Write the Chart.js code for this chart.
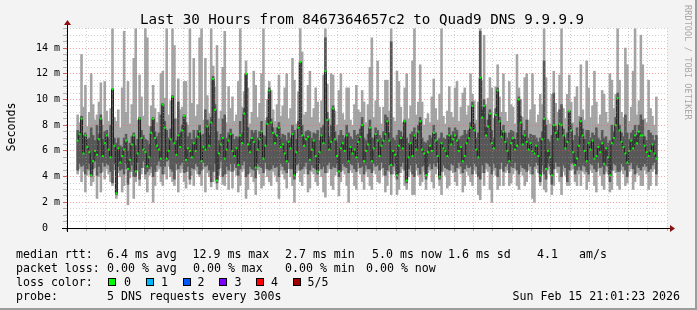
<!DOCTYPE html>
<html>
<head>
<meta charset="utf-8">
<script src="https://cdn.jsdelivr.net/npm/chart.js@4.4.1/dist/chart.umd.min.js"></script>
<style>
  html, body { margin: 0; padding: 0; background: #f3f3f3; }
  #wrap { position: relative; width: 697px; height: 310px; overflow: hidden;
          font-family: "DejaVu Sans Mono", monospace; color: #000; }
  #chart { position: absolute; left: 0; top: 0; }
  #frame { position: absolute; left: 0; top: 0; width: 695px; height: 308px;
           border-right: 2px solid #9c9c9c; border-bottom: 2px solid #9c9c9c; pointer-events: none; }
  .t { position: absolute; white-space: pre; font-size: 11.6px; line-height: 14px; }
  #title { position: absolute; left: 140px; top: 11px; white-space: pre; font-size: 14.2px; line-height: 16px; }
  #ylab { position: absolute; left: -14px; top: 120px; width: 50px; text-align: center; font-size: 11.6px;
          line-height: 14px; transform: rotate(-90deg); white-space: pre; }
  #mark { position: absolute; left: 683px; top: 5px; writing-mode: vertical-rl; font-size: 8.5px;
          color: #a8a8a8; white-space: pre; letter-spacing: 0.1px; }
  .box { position: absolute; top: 278px; width: 6px; height: 6px; border: 1px solid #000; }
</style>
</head>
<body>
<div id="wrap">
  <canvas id="chart" width="697" height="310"></canvas>
  <div id="title">Last 30 Hours from 8467364657c2 to Quad9 DNS 9.9.9.9</div>
  <div id="ylab">Seconds</div>
  <div id="mark">RRDTOOL / TOBI OETIKER</div>

  <div class="t" style="left:16px;top:246.5px">median rtt:</div>
  <div class="t" style="left:107px;top:246.5px">6.4 ms avg</div>
  <div class="t" style="left:192.5px;top:246.5px">12.9 ms max</div>
  <div class="t" style="left:285px;top:246.5px">2.7 ms min</div>
  <div class="t" style="left:372px;top:246.5px">5.0 ms now</div>
  <div class="t" style="left:448px;top:246.5px">1.6 ms sd</div>
  <div class="t" style="left:537px;top:246.5px">4.1</div>
  <div class="t" style="left:579px;top:246.5px">am/s</div>

  <div class="t" style="left:16px;top:260.5px">packet loss:</div>
  <div class="t" style="left:107px;top:260.5px">0.00 % avg</div>
  <div class="t" style="left:193px;top:260.5px">0.00 % max</div>
  <div class="t" style="left:285px;top:260.5px">0.00 % min</div>
  <div class="t" style="left:366px;top:260.5px">0.00 % now</div>

  <div class="t" style="left:16px;top:274.5px">loss color:</div>
  <div id="losskey"></div>

  <div class="t" style="left:16px;top:288.5px">probe:</div>
  <div class="t" style="left:107px;top:288.5px">5 DNS requests every 300s</div>
  <div class="t" style="left:512.5px;top:288.5px">Sun Feb 15 21:01:23 2026</div>
  <div id="frame"></div>
</div>
<script>
// time window in hours counted from Sat 00:00, one column = 6 minutes
var startHour = 15.1;
var endHour = 45.1;
var stepHours = 0.1;

// outer smoke: fastest / slowest of the 5 requests per column (ms)
var minRtt = [
  4.2,4.6,3.6,4.4,2.8,4.1,4.5,3.3,3.6,4.7,2.3,4.0,2.8,4.4,3.8,4.6,4.2,3.6,3.3,4.5,
  2.3,4.3,4.0,2.8,3.3,4.6,1.8,3.9,4.4,2.3,3.6,4.5,3.3,4.2,4.7,3.8,2.8,4.1,4.3,2.0,
  3.3,4.4,4.6,3.6,3.3,4.2,3.8,4.8,4.0,3.6,3.3,4.5,2.8,4.3,4.6,3.6,3.1,4.4,3.4,4.1,
  3.3,4.5,4.2,4.0,3.3,4.6,2.8,4.3,4.0,3.2,3.6,4.4,3.0,4.1,4.7,3.4,3.3,4.2,3.0,4.4,
  3.1,4.5,4.1,2.8,3.3,4.4,4.6,2.3,3.0,4.3,4.0,3.6,2.6,4.5,4.2,3.1,3.3,4.6,4.0,3.6,
  3.3,4.4,4.1,3.6,2.3,4.5,4.2,3.8,3.1,4.6,4.0,3.3,2.0,4.3,4.5,3.6,3.3,4.2,4.6,2.8,
  3.1,4.4,4.2,3.6,3.3,4.5,4.0,2.8,2.4,4.3,4.6,3.3,3.0,4.1,4.4,2.5,3.6,4.5,4.2,3.3,
  2.0,4.5,4.3,3.3,3.0,4.6,4.2,3.6,3.0,4.4,4.0,3.3,3.0,4.5,4.2,3.6,3.5,4.6,4.1,2.8,
  3.3,4.4,2.6,4.2,4.5,2.6,3.0,4.3,4.6,3.3,3.0,4.0,4.4,2.6,2.6,4.5,4.1,3.3,3.6,4.4,
  3.0,4.3,4.5,3.6,3.1,4.2,4.6,3.3,2.6,4.4,4.1,3.1,3.3,4.5,4.3,3.6,3.3,4.6,4.2,2.8,
  3.3,4.4,4.1,3.6,3.3,4.5,4.2,2.6,2.2,4.3,3.3,4.6,4.4,3.0,2.0,4.5,4.1,3.0,3.3,4.6,
  3.3,4.3,4.5,3.3,3.5,4.2,4.6,3.3,3.0,4.4,4.1,3.3,3.6,4.5,4.2,2.3,2.0,4.6,4.3,3.3,
  4.4,3.0,2.8,4.5,4.2,2.6,3.3,4.6,4.3,3.6,2.6,4.4,4.1,3.3,3.3,4.5,4.6,3.6,3.3,4.2,
  3.3,4.4,4.2,3.0,3.6,4.5,4.3,3.3,2.8,4.6,4.1,3.3,3.0,4.4,4.2,2.8,3.0,4.5,4.3,3.3,
  3.0,4.5,4.2,3.3,3.5,4.4,4.6,3.0,3.6,4.3,4.1,3.3,3.3,4.5,4.2,3.0,3.3,4.4,4.6,3.3
];
var maxRtt = [
  8.8,8.2,13.5,9.4,11.1,7.9,9.0,12.0,9.6,8.4,8.8,9.8,11.3,8.0,11.4,9.1,8.3,9.3,15.5,8.6,
  8.3,9.2,7.8,10.9,15.3,9.0,11.4,8.1,9.6,13.2,15.5,8.4,11.9,10.2,8.7,15.5,14.8,7.9,9.5,11.1,
  9.3,8.2,9.0,12.0,12.2,10.1,15.5,8.8,9.9,15.5,14.2,8.5,11.6,9.2,9.4,11.4,11.4,8.0,15.5,9.7,
  13.2,8.7,9.6,14.8,15.5,8.4,13.2,10.3,8.9,15.5,12.6,11.0,14.2,8.5,9.1,12.5,15.3,8.2,11.0,9.3,
  10.2,8.3,8.8,11.4,15.5,9.4,10.6,13.0,10.9,8.1,9.0,12.2,11.1,8.6,9.7,12.0,15.5,8.4,10.0,11.4,
  10.7,9.2,8.3,9.6,11.9,8.7,9.5,10.9,12.0,8.5,9.3,13.2,11.5,8.1,10.6,15.5,13.7,8.8,9.0,11.1,
  12.2,8.6,9.3,10.9,9.8,8.2,9.9,11.9,15.5,11.2,8.5,12.0,11.9,9.1,8.0,10.7,12.0,8.9,8.4,10.9,
  10.9,8.4,8.0,9.6,11.1,9.2,9.0,10.7,9.8,8.2,9.6,12.5,14.8,8.6,9.9,13.0,9.4,8.1,9.4,11.5,
  11.5,9.1,15.5,8.6,8.3,12.2,11.4,9.4,8.2,10.9,12.0,8.5,9.5,13.0,15.5,8.8,9.8,12.7,9.8,8.0,
  8.5,8.9,8.2,10.2,11.6,9.3,8.4,10.4,15.5,8.7,8.1,9.1,11.0,9.0,8.6,10.9,11.4,8.3,9.4,10.5,
  10.9,8.8,9.5,12.0,10.4,9.9,8.4,9.8,15.5,11.5,15.0,9.6,10.1,11.7,10.9,8.5,11.0,12.7,10.2,9.0,
  12.0,9.0,8.3,11.4,9.6,9.4,8.1,13.5,10.9,10.0,8.6,11.7,12.0,8.4,9.2,12.0,9.6,8.2,8.8,10.4,
  9.6,15.5,11.7,8.4,8.1,10.4,12.2,9.7,9.0,11.9,15.5,9.3,8.5,10.4,11.9,9.8,8.2,10.2,11.0,8.7,
  12.7,9.2,8.4,13.0,10.9,8.6,9.5,12.2,9.8,8.1,8.8,10.7,10.4,9.0,8.2,12.0,11.5,9.3,10.4,15.5,
  11.5,9.0,8.6,14.0,12.7,8.3,9.4,12.2,15.5,8.8,9.9,15.0,12.7,8.5,8.2,11.5,9.3,8.7,8.0,10.2
];
// inner smoke: 2nd and 4th of the 5 requests (ms)
var lowRtt = [
  4.5,5.0,4.8,4.9,4.2,4.6,5.0,4.0,4.6,5.2,4.1,4.8,4.3,5.1,4.8,5.0,4.9,4.4,3.5,5.0,
  2.6,4.8,4.5,4.6,4.2,5.0,3.4,4.4,4.9,4.0,4.0,5.1,3.8,4.7,5.2,4.2,4.4,4.6,4.8,4.0,
  4.4,4.9,5.2,4.8,4.2,4.8,5.2,5.3,4.6,4.4,3.8,5.0,4.6,4.9,5.1,4.3,4.4,4.8,3.8,4.7,
  4.6,5.0,4.8,4.2,4.5,5.1,4.8,4.9,4.5,3.6,4.4,5.0,3.5,4.6,5.2,4.0,4.2,4.8,4.5,5.0,
  4.4,5.0,4.7,4.1,4.6,4.9,5.2,4.0,4.2,4.8,4.6,4.5,3.9,5.0,4.8,4.7,4.3,5.1,4.6,4.5,
  4.6,4.9,4.7,4.8,4.0,5.0,4.8,4.5,4.3,5.1,4.6,4.6,3.8,4.9,5.0,4.5,4.6,4.8,5.1,4.2,
  4.5,4.9,4.7,4.6,4.2,5.0,4.6,4.8,4.3,4.9,5.1,4.6,4.8,4.7,5.0,4.0,4.4,5.0,4.8,4.7,
  4.3,5.0,4.9,4.6,4.4,5.1,4.7,4.8,4.2,4.9,4.6,4.6,4.3,5.0,4.8,4.9,4.5,5.1,4.7,4.1,
  4.5,4.9,4.2,4.8,5.0,3.8,4.3,4.8,5.1,4.5,3.5,4.6,4.9,4.2,4.0,5.0,4.7,4.2,4.8,4.9,
  3.8,4.8,5.0,4.6,5.0,4.8,5.1,3.8,4.4,4.9,4.7,4.6,4.5,5.0,4.9,4.4,4.7,5.1,4.8,4.3,
  4.6,4.9,4.7,4.8,4.2,5.0,4.8,4.0,3.8,4.9,4.3,5.1,5.0,4.8,4.2,5.0,4.7,4.0,4.6,5.1,
  4.4,4.8,5.0,4.3,4.8,4.7,5.1,4.5,4.2,4.9,4.7,4.6,4.4,5.0,4.8,4.2,4.8,5.1,4.9,3.6,
  4.9,4.2,3.8,5.0,4.8,3.4,4.6,5.1,4.8,4.8,4.0,4.9,4.7,3.6,4.5,5.0,5.1,4.2,4.5,4.8,
  4.5,4.9,4.8,4.4,4.2,5.0,4.9,4.6,4.4,5.1,4.7,4.8,4.2,4.9,4.8,3.6,4.5,5.0,4.9,4.4,
  4.4,5.0,4.8,4.5,4.0,4.9,5.1,4.6,4.2,4.9,4.7,4.5,4.8,5.0,4.8,4.4,4.6,4.9,5.1,4.2
];
var highRtt = [
  7.6,7.5,8.7,7.2,7.4,6.9,7.0,7.8,7.2,6.8,8.0,7.3,8.8,6.9,7.5,7.6,7.0,8.0,10.8,7.0,
  6.6,7.0,6.4,6.3,7.0,7.3,6.0,6.6,7.1,7.4,6.4,6.9,8.6,7.6,7.2,6.9,6.8,6.5,7.9,8.6,
  7.5,7.1,7.4,8.8,9.7,8.3,7.6,7.0,7.7,10.3,8.5,6.8,9.8,7.4,8.0,8.8,8.2,7.1,7.4,6.9,
  7.6,7.0,7.6,8.0,7.2,7.3,9.2,8.4,7.2,8.6,11.8,9.6,7.5,6.8,7.3,8.5,8.8,7.0,7.4,7.7,
  7.3,6.9,7.1,7.0,8.3,7.4,9.3,12.0,7.8,6.7,7.6,7.4,7.6,7.0,7.5,8.3,7.2,7.1,8.6,10.9,
  8.5,7.8,7.2,7.8,8.2,7.0,7.3,7.2,6.8,7.4,7.0,8.0,7.6,6.9,8.3,12.9,8.0,7.1,7.5,7.6,
  7.5,7.0,7.4,7.3,7.6,6.8,7.8,8.0,14.8,9.0,7.1,8.0,9.5,7.5,6.7,7.2,7.6,7.2,7.0,8.0,
  7.4,7.1,6.9,7.6,7.2,7.3,7.7,8.6,7.0,6.8,7.3,8.4,7.0,7.0,7.8,7.6,7.2,7.0,7.5,8.8,
  8.6,7.4,14.5,7.0,6.8,7.2,7.6,7.5,7.1,8.4,7.0,6.6,7.3,7.5,7.8,6.9,8.0,8.6,7.0,6.7,
  6.6,6.8,7.2,7.0,8.0,7.4,6.8,7.0,7.4,7.0,6.9,7.2,7.8,7.2,7.5,7.8,7.6,6.9,7.1,7.2,
  7.6,7.3,7.6,8.2,9.8,8.1,7.0,7.4,15.3,9.2,10.0,7.8,8.4,9.2,7.6,7.0,9.3,10.9,8.6,7.6,
  8.0,7.4,7.0,7.4,7.6,7.5,6.9,7.4,10.2,8.7,7.2,7.6,8.4,7.0,7.3,7.2,7.2,7.0,6.7,7.0,
  7.5,13.0,8.0,6.9,6.7,7.2,10.5,7.9,7.6,9.2,9.6,7.7,7.0,7.4,9.1,8.1,6.8,7.2,7.8,7.1,
  8.6,7.7,6.9,7.6,7.6,7.0,7.4,7.2,7.8,7.0,6.8,7.6,7.0,7.1,6.6,6.8,8.0,7.5,8.6,10.5,
  8.0,7.4,7.1,8.8,7.4,6.9,7.4,7.6,8.0,7.2,8.0,8.8,8.4,7.1,6.8,7.6,7.4,7.2,6.8,7.2
];
// median rtt per column (ms)
var medianRtt = [
  6.8,7.3,8.5,5.8,7.2,6.3,5.9,4.1,5.2,6.0,5.7,6.9,8.5,5.6,6.6,7.2,6.1,5.5,10.8,6.4,
  2.7,6.2,5.1,5.6,6.1,6.8,4.6,5.3,6.5,7.2,4.4,5.8,8.5,7.0,6.1,5.9,4.8,5.5,7.4,8.5,
  7.0,6.4,6.1,5.4,9.6,7.8,5.4,6.0,6.9,10.2,6.6,5.7,7.2,6.3,7.6,8.7,5.3,6.2,6.0,5.5,
  6.6,6.0,7.1,7.5,5.2,6.3,6.1,7.9,6.4,8.2,11.6,9.2,3.7,5.8,6.5,7.0,5.4,6.1,6.8,7.3,
  6.0,5.6,6.2,4.9,7.2,6.6,8.9,12.0,6.5,5.9,7.0,6.7,4.7,6.1,6.9,7.5,5.4,6.4,8.1,10.7,
  8.2,7.4,6.6,7.2,7.8,6.3,6.5,5.8,5.2,6.7,6.2,7.3,4.1,5.9,7.8,12.9,7.2,6.4,6.9,7.1,
  5.3,6.1,6.8,5.6,4.4,5.9,7.2,6.6,12.2,8.4,6.1,6.7,9.3,6.9,5.6,4.4,6.2,6.6,6.0,7.2,
  5.2,6.3,5.8,6.1,5.5,6.7,7.1,8.0,5.2,6.0,6.5,7.8,5.2,6.2,7.3,6.8,5.6,6.4,6.8,7.3,
  8.3,6.8,4.9,6.0,5.7,4.1,6.4,7.0,6.2,8.3,3.7,5.5,6.6,5.6,7.2,6.1,7.5,8.3,6.1,5.8,
  4.1,5.9,6.4,6.0,7.4,6.8,5.6,4.0,6.6,6.2,6.0,5.6,7.2,6.5,6.9,7.2,6.8,6.0,6.3,5.2,
  5.6,6.6,7.0,7.8,9.5,7.6,6.1,5.5,11.7,8.6,9.5,7.2,7.9,8.9,6.6,6.2,8.8,10.7,8.3,7.1,
  7.5,6.7,6.0,5.2,6.6,7.0,6.1,6.4,10.0,8.2,6.5,7.2,6.7,6.1,6.6,6.0,5.8,6.4,5.6,4.1,
  6.9,8.5,4.6,6.0,5.5,4.1,8.0,7.4,6.9,8.1,8.0,7.2,6.2,6.7,9.1,7.6,5.9,4.9,5.4,6.4,
  8.3,7.2,6.0,5.2,6.6,6.1,6.8,5.4,5.6,6.3,5.9,6.6,5.0,6.2,5.5,4.1,6.6,7.0,8.0,10.1,
  7.6,6.7,6.3,5.8,5.1,6.0,6.8,6.2,7.2,6.6,7.5,7.2,7.2,6.4,5.9,5.6,6.0,6.5,5.8,5.4
];
var yMax = 15.56;
var dayNames = ["Sat", "Sun"];
var lossColors = ["#00ff00", "#00b8ff", "#0059ff", "#7e00ff", "#ff0000", "#a10000"];
var lossLabels = ["0", "1", "2", "3", "4", "5/5"];
var lossBoxX = [108, 145.5, 182.5, 219, 256, 292.5];
var lossLabelX = [124, 161, 197.5, 234.5, 271, 307.5];

var times = minRtt.map(function (v, i) { return startHour + stepHours * (i + 0.5); });

var outer = [], inner = [], median = [];
for (var i = 0; i < times.length; i++) {
  outer.push({ x: times[i], y: [minRtt[i], maxRtt[i]] });
  inner.push({ x: times[i], y: [lowRtt[i], highRtt[i]] });
  median.push({ x: times[i], y: medianRtt[i] });
}

// loss colour key
var key = document.getElementById("losskey");
lossColors.forEach(function (c, i) {
  var b = document.createElement("div");
  b.className = "box";
  b.style.left = lossBoxX[i] + "px";
  b.style.background = c;
  key.appendChild(b);
  var t = document.createElement("div");
  t.className = "t";
  t.style.left = lossLabelX[i] + "px";
  t.style.top = "274.5px";
  t.textContent = lossLabels[i];
  key.appendChild(t);
});

var MAJOR = "rgba(235, 90, 90, 0.55)";
var MINOR = "rgba(150, 150, 150, 0.45)";

// axis lines + arrows, rrdtool style
var axisPlugin = {
  id: "axes",
  afterDraw: function (chart) {
    var ctx = chart.ctx, a = chart.chartArea;
    ctx.save();
    ctx.strokeStyle = "#000";
    ctx.lineWidth = 1;
    ctx.beginPath();
    ctx.moveTo(a.left + 0.5, a.bottom + 4);
    ctx.lineTo(a.left + 0.5, a.top - 3);
    ctx.moveTo(a.left - 5, a.bottom + 0.5);
    ctx.lineTo(a.right + 3, a.bottom + 0.5);
    ctx.stroke();
    ctx.fillStyle = "#8b1010";
    ctx.beginPath();
    ctx.moveTo(a.left - 3, a.top - 3);
    ctx.lineTo(a.left + 4, a.top - 3);
    ctx.lineTo(a.left + 0.5, a.top - 8);
    ctx.closePath();
    ctx.fill();
    ctx.beginPath();
    ctx.moveTo(a.right + 3, a.bottom - 3);
    ctx.lineTo(a.right + 3, a.bottom + 4);
    ctx.lineTo(a.right + 8, a.bottom + 0.5);
    ctx.closePath();
    ctx.fill();
    ctx.restore();
  }
};

var bgPlugin = {
  id: "plotbg",
  beforeDraw: function (chart) {
    var ctx = chart.ctx, a = chart.chartArea;
    ctx.save();
    ctx.fillStyle = "#ffffff";
    ctx.fillRect(a.left, a.top, a.right - a.left, a.bottom - a.top);
    ctx.restore();
  }
};

new Chart(document.getElementById("chart"), {
  type: "bar",
  data: {
    datasets: [{
      type: "line",
      label: "median",
      data: median,
      stepped: "middle",
      borderColor: "#202020",
      borderWidth: 1,
      pointStyle: "rect",
      pointRadius: 1.4,
      pointBorderWidth: 0,
      pointBackgroundColor: "#00ff00",
      order: 0
    }, {
      label: "inner",
      data: inner,
      backgroundColor: "#585858",
      barPercentage: 1,
      categoryPercentage: 1,
      grouped: false,
      order: 1
    }, {
      label: "outer",
      data: outer,
      backgroundColor: "#a4a4a4",
      barPercentage: 1,
      categoryPercentage: 1,
      grouped: false,
      order: 2
    }]
  },
  options: {
    responsive: false,
    animation: false,
    devicePixelRatio: 1,
    layout: { padding: { left: 0, right: 30, top: 28, bottom: 62 } },
    plugins: { legend: { display: false }, tooltip: { enabled: false } },
    scales: {
      x: {
        type: "linear",
        min: startHour,
        max: endHour,
        afterFit: function (s) { s.height = 20; },
        border: { display: false, dash: [1, 2] },
        grid: {
          z: 1,
          color: function (c) { return c.tick && c.tick.value % 3 === 0 ? MAJOR : MINOR; },
          tickColor: function (c) { return c.tick && c.tick.value % 3 === 0 ? "#d06060" : "#b0b0b0"; },
          tickLength: 3
        },
        ticks: {
          stepSize: 1,
          autoSkip: false,
          maxTicksLimit: 100,
          includeBounds: false,
          maxRotation: 0,
          padding: 1,
          color: "#000",
          font: { family: "DejaVu Sans Mono", size: 10 },
          callback: function (v) {
            if (v % 6 !== 0) return "";
            var h = v % 24;
            return dayNames[Math.floor(v / 24)] + " " + (h < 10 ? "0" : "") + h + ":00";
          }
        }
      },
      y: {
        min: 0,
        max: yMax,
        afterFit: function (s) { s.width = 67; },
        border: { display: false, dash: [1, 2] },
        grid: {
          z: 1,
          color: function (c) { return c.tick && Math.abs(c.tick.value % 2) < 1e-6 ? MAJOR : MINOR; },
          tickColor: function (c) { return c.tick && Math.abs(c.tick.value % 2) < 1e-6 ? "#d06060" : "#b0b0b0"; },
          tickLength: 4
        },
        ticks: {
          stepSize: 0.5,
          autoSkip: false,
          maxTicksLimit: 100,
          includeBounds: false,
          padding: 3,
          color: "#000",
          font: { family: "DejaVu Sans Mono", size: 10 },
          callback: function (v) {
            if (Math.abs(v % 2) > 1e-6) return "";
            return v === 0 ? "0  " : v + " m";
          }
        }
      }
    }
  },
  plugins: [bgPlugin, axisPlugin]
});
</script>
</body>
</html>
